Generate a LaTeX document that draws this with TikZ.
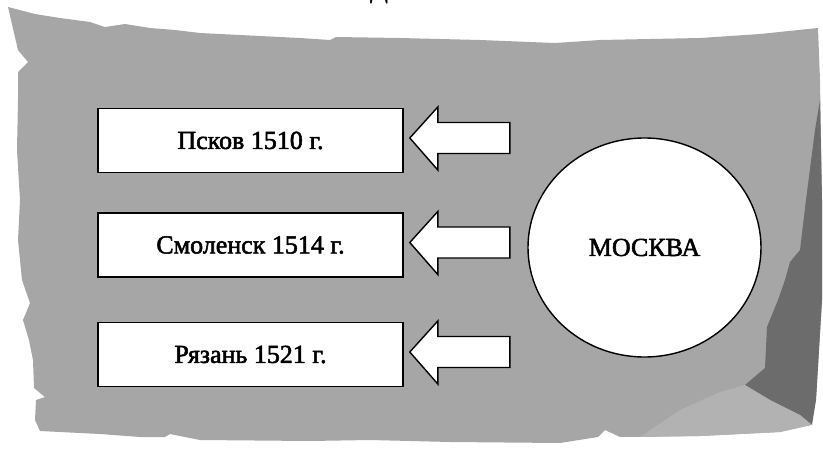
\documentclass[tikz,border=0pt]{standalone}
\usepackage{fontspec}
\setmainfont{Liberation Serif}
\newfontfamily\lblfont{Liberation Serif}[FakeBold=2]
\usetikzlibrary{calc,shapes.geometric}
\definecolor{paper}{HTML}{A6A6A6}
\definecolor{paperdark}{HTML}{6C6C6C}
\definecolor{paperlight}{HTML}{B2B2B2}
\tikzset{
  citybox/.style={draw=black, line width=1.6pt, fill=white, minimum width=305pt, minimum height=64pt, inner sep=0pt, font=\lblfont\fontsize{26}{30}\selectfont},
  centre/.style={draw=black, line width=1.4pt, fill=white, ellipse, minimum width=233pt, minimum height=219pt, inner sep=0pt, font=\lblfont\fontsize{26}{30}\selectfont},
  blockarrow/.style={draw=black, line width=1.4pt, fill=white, line join=miter},
}
\begin{document}
\begin{tikzpicture}[x=1pt,y=-1pt]
\useasboundingbox (0,0) rectangle (823,450);
% torn paper background
\fill[paper] (8,7) -- (35,14) -- (60,18) -- (90,22) -- (105,27) -- (125,24) -- (150,28) -- (175,30) -- (200,33)
  -- (260,36) -- (300,38) -- (330,40) -- (336,37) -- (400,38) -- (480,40) -- (530,42) -- (555,43)
  -- (600,40) -- (700,38) -- (760,34) -- (818,28)
  -- (820,80) -- (822,200) -- (822,300) -- (816,400) -- (810,425)
  -- (780,432) -- (700,436) -- (620,437) -- (605,430) -- (598,437) -- (560,443) -- (450,442)
  -- (370,440) -- (310,441) -- (200,440) -- (170,434) -- (165,437) -- (140,437) -- (100,434) -- (40,431)
  -- (35,420) -- (36,400) -- (45,397) -- (34,388) -- (33,360) -- (29,340) -- (23,320) -- (30,303)
  -- (22,280) -- (18,240) -- (20,200) -- (17,150) -- (18,100) -- (18,72) -- (28,62) -- (18,50) -- cycle;
\fill[paperdark] (820,100) -- (815,130) -- (806,200) -- (800,250) -- (790,262) -- (785,280) -- (778,300)
  -- (767,327) -- (765,368) -- (745,385) -- (770,400) -- (800,415) -- (812,425) -- (816,400) -- (822,300) -- (822,200) -- cycle;
\fill[paperlight] (745,385) -- (770,400) -- (800,415) -- (812,425) -- (780,432) -- (700,436) -- (640,437) -- (680,410) -- (720,392) -- cycle;
% cut-off letter at the top
\node[anchor=base, inner sep=0pt, font=\lblfont\fontsize{26}{30}\selectfont] (top) at (379,-2.5) {Д};
% boxes
\node[citybox] (pskov) at (250.5,140.5) {Псков 1510 г.};
\node[citybox] (smol) at (250.5,245) {Смоленск 1514 г.};
\node[citybox] (ryaz) at (250.5,354.5) {Рязань 1521 г.};
% Moscow
\node[centre] (msk) at (644.5,247.5) {МОСКВА};
% block arrows
\foreach \b in {pskov,smol,ryaz}{
  \draw[blockarrow] ($(\b.east)+(6,-2.5)$) coordinate (tip-\b)
    -- ++(28,-31) -- ++(0,15.5) -- ++(72,0) -- ++(0,31) -- ++(-72,0) -- ++(0,16.5) -- cycle;
}
\end{tikzpicture}
\end{document}
